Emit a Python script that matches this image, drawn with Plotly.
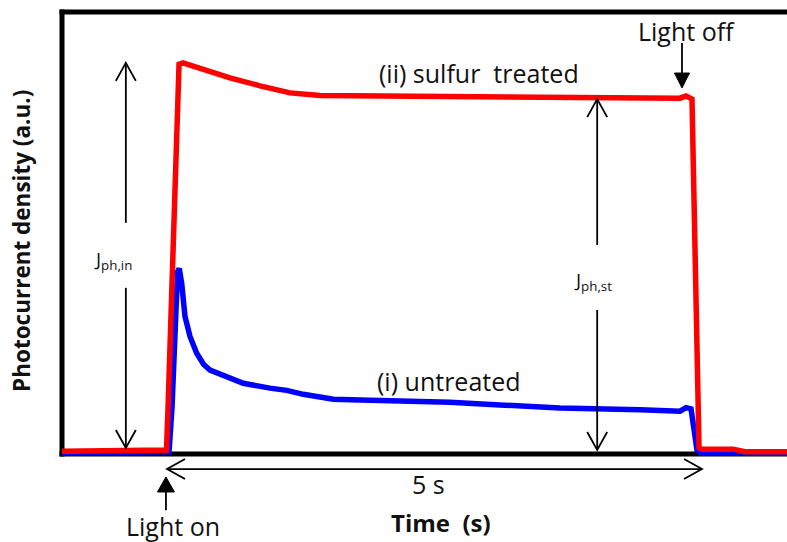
import plotly.graph_objects as go

# ---------------- data (time in s, photocurrent density in a.u.) ----------------
red_t = [0.0, 0.94, 0.982, 0.996, 1.100, 1.137, 1.579, 1.861, 2.143, 2.425, 3.177,
         4.117, 5.056, 5.808, 5.865, 5.921, 5.940, 5.968, 5.987, 6.015, 6.306, 6.419, 6.814]
red_v = [0.006, 0.006, 0.009, 0.100, 0.882, 0.885, 0.851, 0.833, 0.817, 0.811, 0.809,
         0.808, 0.807, 0.805, 0.810, 0.803, 0.575, 0.122, 0.014, 0.011, 0.011, 0.005, 0.005]

blue_t = [0.0, 0.977, 1.006, 1.034, 1.086, 1.102, 1.125, 1.156, 1.203, 1.266, 1.330, 1.391,
          1.548, 1.704, 1.955, 2.112, 2.268, 2.550, 2.801, 3.177, 3.647, 4.117, 4.680,
          5.432, 5.808, 5.865, 5.912, 5.968, 6.006, 6.814]
blue_v = [0.002, 0.002, 0.005, 0.106, 0.412, 0.420, 0.386, 0.311, 0.266, 0.228, 0.203, 0.190,
          0.175, 0.160, 0.149, 0.144, 0.135, 0.124, 0.122, 0.121, 0.117, 0.111, 0.104,
          0.100, 0.097, 0.105, 0.102, 0.009, 0.002, 0.002]

series_names = ["(i) untreated", "(ii) sulfur  treated"]
x_title = "Time  (s)"
y_title = "Photocurrent density (a.u.)"
light_on_t = 0.977
light_off_t = 5.827
interval_label = "5 s"

# ---------------- layout helpers ----------------
W, H = 787, 542
PXS = 106.4   # pixels per second
PYS = 442.0   # pixels per unit
X0PX, Y0PX = 62, 454
xr = [(0 - X0PX) / PXS, (W - X0PX) / PXS]
yr = [(Y0PX - H) / PYS, Y0PX / PYS]
DX, DY = 1 / PXS, 1 / PYS

fig = go.Figure()
fig.add_trace(go.Scatter(x=blue_t, y=blue_v, mode="lines", name=series_names[0],
                         line=dict(color="#0000ff", width=5.5), hoverinfo="skip"))
fig.add_trace(go.Scatter(x=red_t, y=red_v, mode="lines", name=series_names[1],
                         line=dict(color="#ff0000", width=5.5), hoverinfo="skip"))

shapes = []
BL = dict(color="black", width=5)
# frame (left, top, bottom)
shapes.append(dict(type="line", x0=0, x1=0, y0=-2.5 * DY, y1=1 + 2.5 * DY,
                   xref="x", yref="y", line=BL, layer="below"))
shapes.append(dict(type="line", x0=-2.5 * DX, x1=xr[1], y0=1, y1=1,
                   xref="x", yref="y", line=BL, layer="below"))
shapes.append(dict(type="line", x0=-2.5 * DX, x1=xr[1], y0=0, y1=0,
                   xref="x", yref="y", line=BL, layer="below"))

AL = dict(color="black", width=1.8)


def seg(xa, ya, xb, yb, line=AL):
    shapes.append(dict(type="line", x0=xa, y0=ya, x1=xb, y1=yb, xref="x", yref="y", line=line))


def vhead(x, y, ux, uy, ln=18, hw=10):
    px, py = -uy, ux
    ax = x - (ux * ln + px * hw) * DX
    ay = y - (uy * ln + py * hw) * DY
    bx = x - (ux * ln - px * hw) * DX
    by = y - (uy * ln - py * hw) * DY
    shapes.append(dict(type="path", path=f"M{ax},{ay} L{x},{y} L{bx},{by}",
                       xref="x", yref="y", line=AL))


def fhead(x, y, ux, uy, ln=15, hw=8):
    px, py = -uy, ux
    ax = x - (ux * ln + px * hw) * DX
    ay = y - (uy * ln + py * hw) * DY
    bx = x - (ux * ln - px * hw) * DX
    by = y - (uy * ln - py * hw) * DY
    shapes.append(dict(type="path", path=f"M{ax},{ay} L{x},{y} L{bx},{by} Z",
                       xref="x", yref="y", fillcolor="black", line=dict(color="black", width=1)))


# J_ph,in arrow (up to red peak, down to baseline)
peak = max(red_v)
xa = 0.60
seg(xa, 0.523, xa, peak); vhead(xa, peak, 0, 1)
seg(xa, 0.376, xa, 0.0136); vhead(xa, 0.0136, 0, -1)
# J_ph,st arrow
xs = 5.03
st = 0.803
seg(xs, 0.473, xs, st); vhead(xs, st, 0, 1)
seg(xs, 0.326, xs, 0.009); vhead(xs, 0.009, 0, -1)
# 5 s arrow
ya5 = -0.034
seg(0.987, ya5, 6.015, ya5); vhead(0.987, ya5, -1, 0); vhead(6.015, ya5, 1, 0)
# light on
seg(light_on_t, -0.052 - 14 * DY, light_on_t, -0.127); fhead(light_on_t, -0.052, 0, 1, 15, 8.5)
# light off
seg(light_off_t, 0.828 + 14 * DY, light_off_t, 0.930); fhead(light_off_t, 0.828, 0, -1, 15, 7.5)

FONT = "Open Sans"
ann = []


def txt(x, y, s, size=25, bold=False, angle=0):
    ann.append(dict(x=x, y=y, xref="x", yref="y", text=f"<b>{s}</b>" if bold else s,
                    showarrow=False, xanchor="center", yanchor="middle", textangle=angle,
                    font=dict(family=FONT, size=size, color="#111111")))


txt(3.919, 0.861, series_names[1], size=25)
txt(3.637, 0.165, series_names[0], size=25)
txt(5.874, 0.957, "Light off", size=25)
txt(1.043, -0.163, "Light on", size=25)
txt(3.440, -0.068, interval_label, size=25)
txt(3.562, -0.154, x_title, size=24, bold=True)
txt(-0.376, 0.482, y_title, size=22.5, bold=True, angle=-90)
txt(0.475, 0.439, "J<sub>ph,in</sub>", size=19)
txt(4.987, 0.391, "J<sub>ph,st</sub>", size=19)

fig.update_layout(
    width=W, height=H, margin=dict(l=0, r=0, t=0, b=0),
    paper_bgcolor="white", plot_bgcolor="white", showlegend=False,
    xaxis=dict(range=xr, visible=False, fixedrange=True),
    yaxis=dict(range=yr, visible=False, fixedrange=True),
    shapes=shapes, annotations=ann,
)
fig.write_html("out.html")
